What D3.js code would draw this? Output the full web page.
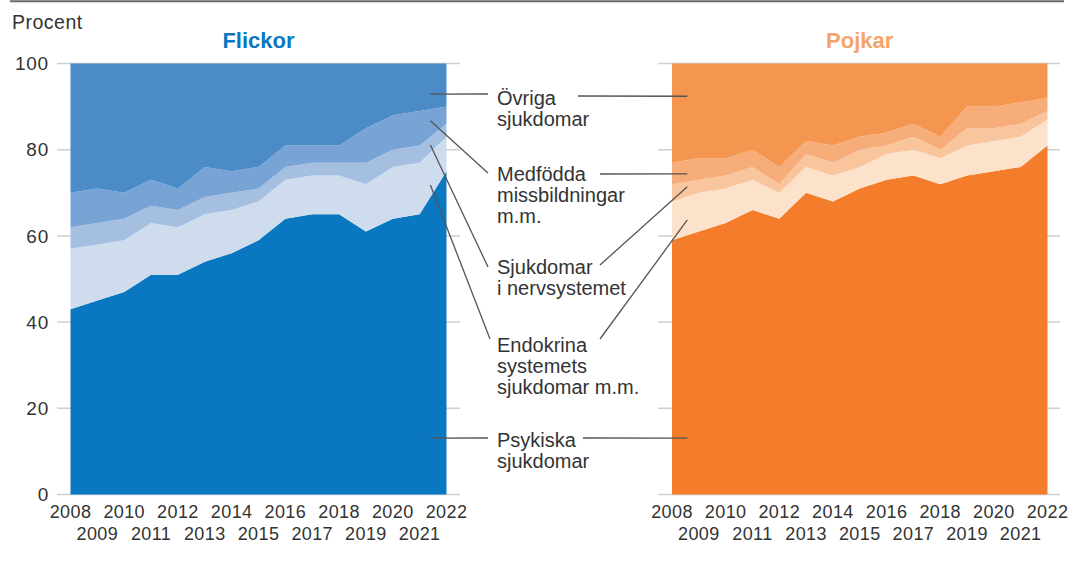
<!DOCTYPE html>
<html><head><meta charset="utf-8">
<script src="https://cdn.jsdelivr.net/npm/d3@7/dist/d3.min.js"></script>
<style>
body{margin:0;background:#fff;}
svg{display:block;font-family:"Liberation Sans",Arial,Helvetica,sans-serif;}
</style>
</head><body>
<svg id="chart" width="1072" height="561"></svg>
<script>
// ---------- DATA ----------
const years = [2008,2009,2010,2011,2012,2013,2014,2015,2016,2017,2018,2019,2020,2021,2022];
const keys = ["psykiska","endokrina","nerv","medfodda","ovriga"];

// Flickor (percent share, stacked from bottom)
const flickorPsykiska  = [43,45,47,51,51,54,56,59,64,65,65,61,64,65,75];
const flickorEndokrina = [14,13,12,12,11,11,10, 9, 9, 9, 9,11,12,12, 8];
const flickorNerv      = [ 5, 5, 5, 4, 4, 4, 4, 3, 3, 3, 3, 5, 4, 4, 3];
const flickorMedfodda  = [ 8, 8, 6, 6, 5, 7, 5, 5, 5, 4, 4, 8, 8, 8, 4];
const flickorOvriga    = [30,29,30,27,29,24,25,24,19,19,19,15,12,11,10];

// Pojkar
const pojkarPsykiska  = [59,61,63,66,64,70,68,71,73,74,72,74,75,76,81];
const pojkarEndokrina = [ 9, 9, 8, 7, 6, 6, 6, 5, 6, 6, 6, 7, 7, 7, 6];
const pojkarNerv      = [ 4, 3, 3, 3, 2, 3, 3, 4, 2, 3, 2, 4, 3, 3, 2];
const pojkarMedfodda  = [ 5, 5, 4, 4, 4, 3, 4, 3, 3, 3, 3, 5, 5, 5, 3];
const pojkarOvriga    = [23,22,22,20,24,18,19,17,16,14,17,10,10, 9, 8];

const yTicks = [0,20,40,60,80,100];
const titles = ["Flickor","Pojkar"];
const yLabel = "Procent";

const legendLabels = [
  ["Övriga","sjukdomar"],
  ["Medfödda","missbildningar","m.m."],
  ["Sjukdomar","i nervsystemet"],
  ["Endokrina","systemets","sjukdomar m.m."],
  ["Psykiska","sjukdomar"]
];

// ---------- STYLE / LAYOUT ----------
const blueColors   = {psykiska:"#0a78c0", endokrina:"#cfdcee", nerv:"#a5bfe1", medfodda:"#77a3d5", ovriga:"#4a8bc8"};
const orangeColors = {psykiska:"#f37d2a", endokrina:"#fce2cb", nerv:"#f9c59d", medfodda:"#f7ad79", ovriga:"#f4964f"};
const titleColors  = ["#0a78c0","#f5a368"];

function toRows(arrs){
  return years.map((yr,i)=>{
    const r={year:yr};
    keys.forEach((k,j)=>r[k]=arrs[j][i]);
    return r;
  });
}
const flickorRows = toRows([flickorPsykiska,flickorEndokrina,flickorNerv,flickorMedfodda,flickorOvriga]);
const pojkarRows  = toRows([pojkarPsykiska,pojkarEndokrina,pojkarNerv,pojkarMedfodda,pojkarOvriga]);

const svg = d3.select("#chart");
const y = d3.scaleLinear().domain([0,100]).range([494.5,63.5]);

// top rule
svg.append("line").attr("x1",10).attr("x2",1064).attr("y1",1.2).attr("y2",1.2)
  .attr("stroke","#6b6b6b").attr("stroke-width",2);

svg.append("text").attr("x",12).attr("y",29).attr("font-size",19.5)
  .attr("letter-spacing",0.5).attr("fill","#333").text(yLabel);

const panels = [
  {rows:flickorRows, colors:blueColors,   x0:70.5, x1:446.5, g0:57, g1:460, axis:true},
  {rows:pojkarRows,  colors:orangeColors, x0:672,  x1:1047.5, g0:658, g1:1060, axis:false}
];
const xScales = [];

panels.forEach((p,pi)=>{
  const x = d3.scaleLinear().domain([years[0], years[years.length-1]]).range([p.x0,p.x1]);
  xScales.push(x);
  const g = svg.append("g");
  // gridlines
  g.selectAll("line.grid").data(yTicks).join("line")
    .attr("x1",p.g0).attr("x2",p.g1).attr("y1",d=>y(d)).attr("y2",d=>y(d))
    .attr("stroke","#cfcfcf").attr("stroke-width",1.5);
  if(p.axis){
    g.selectAll("text.ytick").data(yTicks).join("text")
      .attr("x",49).attr("y",d=>y(d)).attr("dy","0.35em")
      .attr("text-anchor","end").attr("font-size",19).attr("letter-spacing",0.8)
      .attr("fill","#333").text(d=>d);
  }
  const stack = d3.stack().keys(keys)(p.rows);
  const area = d3.area().x(d=>x(d.data.year)).y0(d=>y(d[0])).y1(d=>y(d[1]));
  g.selectAll("path.layer").data(stack).join("path")
    .attr("d",area).attr("fill",d=>p.colors[d.key]);
  // x labels, two rows
  g.selectAll("text.xtick").data(years).join("text")
    .attr("x",d=>x(d)).attr("y",(d,i)=> i%2===0 ? 518 : 540)
    .attr("text-anchor","middle").attr("font-size",18).attr("letter-spacing",0.4)
    .attr("fill","#333").text(d=>d);
  // title
  svg.append("text").attr("x",(p.x0+p.x1)/2).attr("y",48).attr("text-anchor","middle")
    .attr("font-size",22).attr("font-weight","bold").attr("fill",titleColors[pi]).text(titles[pi]);
});

// ---------- LEGEND / LEADERS ----------
const legendX = 497;
const legendBaselines = [105,181,274,352,447];
const lineH = 21;
// anchors inside charts (data units): [year, value]
const leftAnchors  = [[2021.4,92.9],[2021.4,86.7],[2021.4,81.1],[2021.4,71.8],[2021.4,13.1]];
const rightAnchors = [[2008.57,92.4],[2008.57,74.4],[2008.57,71.4],[2008.57,63.7],[2008.57,13.1]];
// leader end points at the label side (pixels)
const leftEnds  = [[488,94],[488,173],[488,267],[490,339],[488,438]];
const rightEnds = [[578,96],[600,174],[600,265],[600,339],[583,438]];

const lg = svg.append("g");
legendLabels.forEach((lines,i)=>{
  const t = lg.append("text").attr("font-size",20).attr("fill","#333");
  lines.forEach((ln,j)=>{
    t.append("tspan").attr("x",legendX).attr("y",legendBaselines[i]+j*lineH).text(ln);
  });
  const la = leftAnchors[i], ra = rightAnchors[i];
  lg.append("line").attr("x1",xScales[0](la[0])).attr("y1",y(la[1]))
    .attr("x2",leftEnds[i][0]).attr("y2",leftEnds[i][1])
    .attr("stroke","#555").attr("stroke-width",1.3);
  lg.append("line").attr("x1",rightEnds[i][0]).attr("y1",rightEnds[i][1])
    .attr("x2",xScales[1](ra[0])).attr("y2",y(ra[1]))
    .attr("stroke","#555").attr("stroke-width",1.3);
});
</script>
</body></html>
